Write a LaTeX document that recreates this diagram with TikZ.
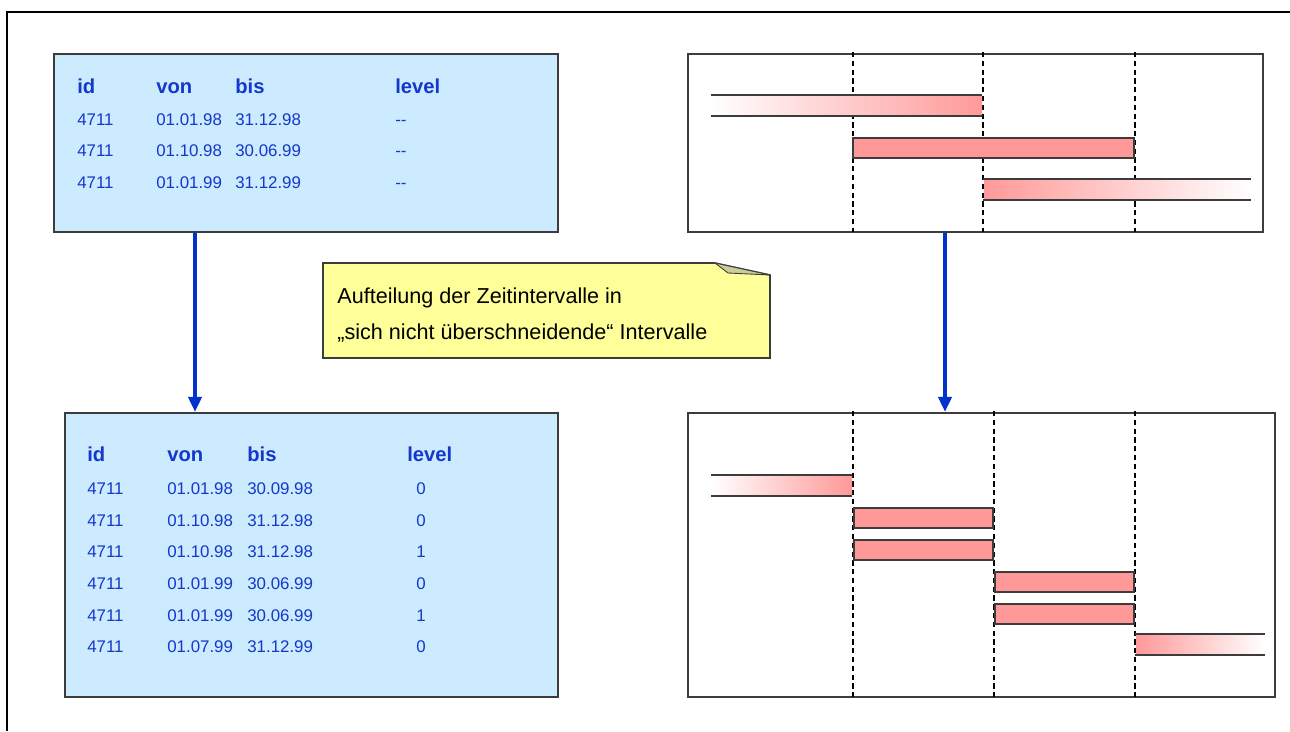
\documentclass[tikz,border=0pt]{standalone}
\usepackage{fontspec}
\setmainfont{Liberation Sans}
\usetikzlibrary{arrows.meta,positioning,fit}
\definecolor{tabfill}{RGB}{204,235,255}
\definecolor{tabtext}{RGB}{20,55,205}
\definecolor{flowblue}{RGB}{0,51,204}
\definecolor{barpink}{RGB}{255,153,153}
\definecolor{notefill}{RGB}{255,255,153}
\definecolor{notefold}{RGB}{204,204,153}
\definecolor{edgegray}{RGB}{60,60,60}

\begin{document}
\begin{tikzpicture}[x=0.02cm, y=-0.02cm]
\useasboundingbox (0,0) rectangle (1290,731);
\tikzstyle{every node} = [inner sep=0pt]
\tikzstyle{tbl} = [draw=edgegray, fill=tabfill, line width=1.2pt]
\tikzstyle{chart} = [draw=edgegray, line width=1.2pt]
\tikzstyle{head} = [anchor=base west, text=tabtext, font=\fontsize{11.5}{13}\selectfont\bfseries]
\tikzstyle{cell} = [anchor=base west, text=tabtext, font=\fontsize{9.6}{11}\selectfont]
\tikzstyle{grid} = [black, line width=0.7pt, dash pattern=on 3pt off 2pt]
\tikzstyle{bar} = [draw=edgegray, fill=barpink, line width=0.8pt]
\tikzstyle{rim} = [draw=edgegray, line width=0.8pt]
\tikzstyle{flow} = [flowblue, line width=2.1pt, -{Triangle[length=0.3cm, width=0.26cm]}]

\draw[line width=1pt] (7,731) -- (7,12) -- (1290,12);

\node[tbl, fit={(54,54) (558,232)}] (tabA) {};
\node[head] (ahid) at (77,93) {id};
\node[head] (ahvon) at (156,93) {von};
\node[head] (ahbis) at (235,93) {bis};
\node[head] (ahlev) at (395,93) {level};
\foreach \y/\von/\bis [count=\i] in {125/01.01.98/31.12.98, 156/01.10.98/30.06.99, 188/01.01.99/31.12.99} {
	\node[cell] (a\i id) at (77,\y) {4711};
	\node[cell] (a\i von) at (156,\y) {\von};
	\node[cell] (a\i bis) at (235,\y) {\bis};
	\node[cell] (a\i lev) at (395,\y) {{-}{-}};
}

\node[tbl, fit={(65,413) (558,697)}] (tabB) {};
\node[head] (bhid) at (87,461) {id};
\node[head] (bhvon) at (167,461) {von};
\node[head] (bhbis) at (247,461) {bis};
\node[head] (bhlev) at (407,461) {level};
\foreach \y/\von/\bis/\lev [count=\i] in {494/01.01.98/30.09.98/0, 526/01.10.98/31.12.98/0, 557/01.10.98/31.12.98/1, 589/01.01.99/30.06.99/0, 621/01.01.99/30.06.99/1, 652/01.07.99/31.12.99/0} {
	\node[cell] (b\i id) at (87,\y) {4711};
	\node[cell] (b\i von) at (167,\y) {\von};
	\node[cell] (b\i bis) at (247,\y) {\bis};
	\node[cell] (b\i lev) at (416,\y) {\lev};
}

\coordinate (ax) at (195,0);
\draw[flow] (tabA.south -| ax) -- (tabB.north -| ax);

\node[chart, fit={(688,54) (1263,232)}] (chtA) {};
\draw[grid] (853,52) -- (853,232) (983,52) -- (983,232) (1135,52) -- (1135,232);
\shade[left color=white, right color=barpink] (711,95) rectangle (982,116);
\draw[rim] (711,95) -- (982,95) (711,116) -- (982,116);
\draw[bar] (853,138) rectangle (1134,158);
\shade[left color=barpink, right color=white] (984,179) rectangle (1251,200);
\draw[rim] (983,179) -- (1251,179) (983,200) -- (1251,200);

\node[chart, fit={(688,413) (1275,697)}] (chtB) {};
\draw[grid] (853,411) -- (853,697) (994,411) -- (994,697) (1135,411) -- (1135,697);
\shade[left color=white, right color=barpink] (711,475) rectangle (852,496);
\draw[rim] (711,475) -- (852,475) (711,496) -- (852,496);
\draw[bar] (854,508) rectangle (993,528);
\draw[bar] (854,540) rectangle (993,560);
\draw[bar] (995,572) rectangle (1134,592);
\draw[bar] (995,604) rectangle (1134,624);
\shade[left color=barpink, right color=white] (1136,634) rectangle (1265,655);
\draw[rim] (1135,634) -- (1265,634) (1135,655) -- (1265,655);

\coordinate (bx) at (945,0);
\draw[flow] (chtA.south -| bx) -- (chtB.north -| bx);

\draw[fill=notefill, draw=edgegray, line width=0.9pt] (323,263) -- (715,263) -- (770,275) -- (770,358) -- (323,358) -- cycle;
\fill[notefold, draw=edgegray, line width=0.5pt] (715,263) -- (728,273) -- (770,275) -- cycle;
\node[anchor=base west, font=\fontsize{12.3}{14}\selectfont] (note1) at (337,303) {Aufteilung der Zeitintervalle in};
\node[anchor=base west, font=\fontsize{12.3}{14}\selectfont] (note2) at (337,339) {„sich nicht überschneidende“ Intervalle};
\end{tikzpicture}
\end{document}
